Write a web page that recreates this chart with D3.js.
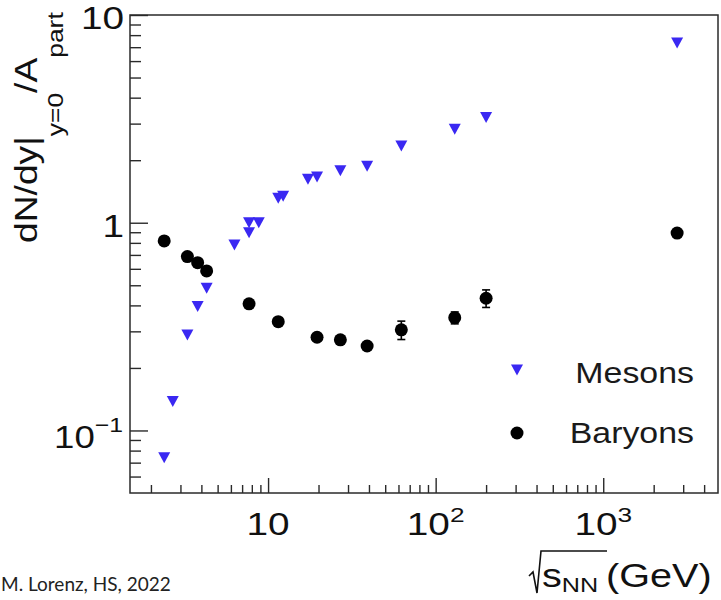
<!DOCTYPE html>
<html>
<head>
<meta charset="utf-8">
<script src="https://cdn.jsdelivr.net/npm/d3@7"></script>
<style>
  html, body { margin: 0; padding: 0; background: #fff; }
  svg { display: block; }
  text { font-family: "Liberation Sans", Arial, Helvetica, sans-serif; }
</style>
</head>
<body>
<svg id="chart" width="721" height="600"></svg>
<script>
// Collision energies (GeV) and yields per participant
const mesonEnergy = [2.4, 2.7, 3.3, 3.8, 4.3, 6.3, 7.7, 7.7, 8.8, 11.5, 12.3, 17.3, 19.6, 27, 39, 62.4, 130, 200, 2760];
const mesonYield  = [0.074, 0.138, 0.288, 0.395, 0.484, 0.781, 0.895, 1.0, 1.0, 1.31, 1.34, 1.62, 1.66, 1.78, 1.87, 2.34, 2.82, 3.21, 7.33];

const baryonEnergy = [2.4, 3.3, 3.8, 4.3, 7.7, 11.5, 19.6, 27, 39, 62.4, 130, 200, 2760];
const baryonYield  = [0.817, 0.687, 0.642, 0.586, 0.407, 0.334, 0.281, 0.273, 0.255, 0.305, 0.349, 0.433, 0.892];
const baryonError  = [0, 0, 0, 0, 0, 0, 0, 0, 0, 0.031, 0.023, 0.042, 0];

const xMajorTicks = [10, 100, 1000];
const xTickLabels = [["10", ""], ["10", "2"], ["10", "3"]];
const yMajorTicks = [0.1, 1, 10];
const yTickLabels = [["10", "\u22121"], ["1", ""], ["10", ""]];

const legendNames = ["Mesons", "Baryons"];

const mesonColor = "#3a28f2";
const axisColor = "#2a2a2a";

const svg = d3.select("#chart");
const plotLeft = 130, plotRight = 718, plotTop = 15, plotBottom = 493;

const x = d3.scaleLog().domain([1.5, 4840]).range([plotLeft, plotRight]);
const y = d3.scaleLog().domain([0.05, 10]).range([plotBottom, plotTop]);

// minor tick values per decade
function minorTicks(scale) {
  const [a, b] = scale.domain();
  const out = [];
  for (let e = Math.floor(Math.log10(a)); e <= Math.ceil(Math.log10(b)); e++) {
    for (let m = 2; m <= 9; m++) {
      const v = m * Math.pow(10, e);
      if (v > a * 1.0001 && v < b * 0.9999) out.push(v);
    }
  }
  return out;
}

function styleAxis(g) {
  g.select(".domain").remove();
  g.selectAll(".tick line").attr("stroke", axisColor).attr("stroke-width", 1.4);
  g.selectAll(".tick text").remove();
}

// x axis: minor and major ticks pointing into the frame
svg.append("g").attr("transform", `translate(0,${plotBottom})`)
  .call(d3.axisBottom(x).tickValues(minorTicks(x)).tickSize(-8).tickFormat(""))
  .call(styleAxis);
svg.append("g").attr("transform", `translate(0,${plotBottom})`)
  .call(d3.axisBottom(x).tickValues(xMajorTicks).tickSize(-15).tickFormat(""))
  .call(styleAxis);

// y axis
svg.append("g").attr("transform", `translate(${plotLeft},0)`)
  .call(d3.axisLeft(y).tickValues(minorTicks(y)).tickSize(-11).tickFormat(""))
  .call(styleAxis);
svg.append("g").attr("transform", `translate(${plotLeft},0)`)
  .call(d3.axisLeft(y).tickValues(yMajorTicks).tickSize(-18).tickFormat(""))
  .call(styleAxis);

// frame
svg.append("rect")
  .attr("x", plotLeft).attr("y", plotTop)
  .attr("width", plotRight - plotLeft).attr("height", plotBottom - plotTop)
  .attr("fill", "none").attr("stroke", axisColor).attr("stroke-width", 1.5);

const stretch = 1.25;

// x tick labels (power-of-ten with superscript), centred on the tick
xMajorTicks.forEach((v, i) => {
  const [base, sup] = xTickLabels[i];
  const g = svg.append("g")
    .attr("transform", `translate(${x(v)},535) scale(${stretch},1)`);
  const t = g.append("text").attr("text-anchor", "middle")
    .attr("font-size", 31).attr("fill", "#111");
  t.append("tspan").text(base);
  if (sup) t.append("tspan").attr("font-size", 21).attr("dy", -13).text(sup);
});

// y tick labels, right-aligned next to the axis
yMajorTicks.forEach((v, i) => {
  const [base, sup] = yTickLabels[i];
  const off = sup ? 17.5 : 14;
  const g = svg.append("g")
    .attr("transform", `translate(${sup ? 123 : 124},${y(v) + off}) scale(${sup ? 1.18 : stretch},1)`);
  const t = g.append("text").attr("text-anchor", "end")
    .attr("font-size", 31).attr("fill", "#111");
  t.append("tspan").text(base);
  if (sup) t.append("tspan").attr("font-size", 21).attr("dy", -16).text(sup);
});

// y axis title: dN/dy|_{y=0}/A_{part}
{
  const g = svg.append("g").attr("transform", "translate(37,243) rotate(-90) scale(1.2,1)");
  const t = g.append("text").attr("font-size", 31).attr("fill", "#111");
  t.append("tspan").text("dN/dy|");
  t.append("tspan").attr("font-size", 22).attr("dy", 26).text("y=0");
  t.append("tspan").attr("dy", -26).text("/A");
  t.append("tspan").attr("font-size", 22).attr("dy", 26).text("part");
}

// x axis title: sqrt(s_NN) (GeV)
svg.append("path")
  .attr("d", "M529,576 L533,572 L537,593 L541,551 L607,551")
  .attr("fill", "none").attr("stroke", "#111").attr("stroke-width", 1.6);
{
  const g = svg.append("g").attr("transform", `translate(542,587) scale(1.2,1)`);
  const t = g.append("text").attr("font-size", 33).attr("fill", "#111");
  t.append("tspan").text("s");
  t.append("tspan").attr("font-size", 21).attr("dy", 5).text("NN");
  t.append("tspan").attr("dy", -5).text("\u2009(GeV)");
}

// baryon error bars
const errG = svg.append("g");
baryonEnergy.forEach((e, i) => {
  const err = baryonError[i];
  if (!err) return;
  const cx = x(e), y0 = y(baryonYield[i] - err), y1 = y(baryonYield[i] + err);
  errG.append("line").attr("x1", cx).attr("x2", cx).attr("y1", y0).attr("y2", y1)
    .attr("stroke", "#000").attr("stroke-width", 1.6);
  [y0, y1].forEach(yy => errG.append("line")
    .attr("x1", cx - 4).attr("x2", cx + 4).attr("y1", yy).attr("y2", yy)
    .attr("stroke", "#000").attr("stroke-width", 1.6));
});

// markers
const triPath = "M-6,-5.5 L6,-5.5 L0,5.5 Z";

svg.append("g").selectAll("circle")
  .data(d3.zip(baryonEnergy, baryonYield))
  .join("circle")
  .attr("cx", d => x(d[0])).attr("cy", d => y(d[1]))
  .attr("r", 6.5).attr("fill", "#000");

svg.append("g").selectAll("path")
  .data(d3.zip(mesonEnergy, mesonYield))
  .join("path")
  .attr("d", triPath)
  .attr("transform", d => `translate(${x(d[0])},${y(d[1])})`)
  .attr("fill", mesonColor);

// legend
const lg = svg.append("g");
lg.append("path").attr("d", triPath).attr("transform", "translate(517,370)").attr("fill", mesonColor);
lg.append("circle").attr("cx", 517).attr("cy", 433).attr("r", 6.5).attr("fill", "#000");
legendNames.forEach((name, i) => {
  lg.append("g").attr("transform", `translate(694,${383 + i * 60}) scale(1.13,1)`)
    .append("text").attr("text-anchor", "end").attr("font-size", 30).attr("fill", "#1a1a1a")
    .text(name);
});

// credit line
svg.append("text")
  .attr("x", 1).attr("y", 591)
  .style("font-family", "Lato, 'Open Sans', sans-serif")
  .attr("font-size", 19).attr("fill", "#222")
  .text("M. Lorenz, HS, 2022");
</script>
</body>
</html>
